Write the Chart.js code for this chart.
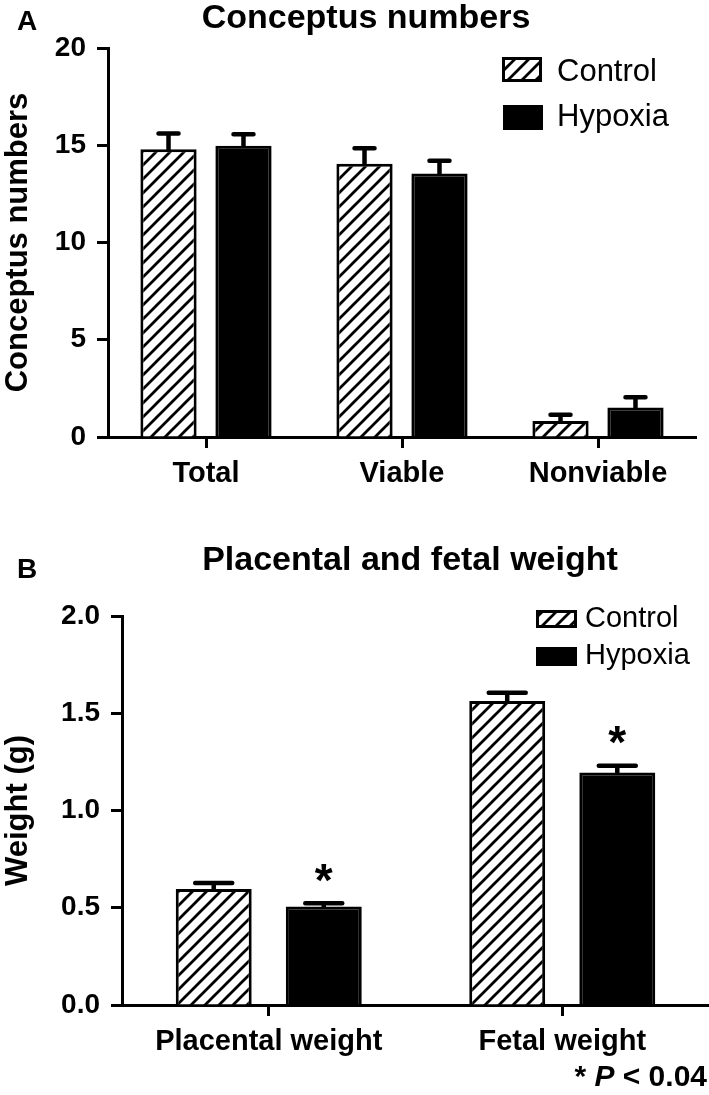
<!DOCTYPE html>
<html>
<head>
<meta charset="utf-8">
<script src="https://cdn.jsdelivr.net/npm/chart.js@4.4.1/dist/chart.umd.min.js"></script>
<style>
  body { margin: 0; background: #fff; }
  #wrap { position: relative; width: 709px; height: 1095px; }
  #wrap canvas { position: absolute; left: 0; }
</style>
</head>
<body>
<div id="wrap">
  <canvas id="conceptus" width="709" height="510" style="top:0"></canvas>
  <canvas id="weight" width="709" height="585" style="top:510px"></canvas>
</div>
<script>
// panel A data
const conceptusCategories = ['Total', 'Viable', 'Nonviable'];
const conceptusControl = [14.8, 14.05, 0.82];
const conceptusControlSem = [0.8, 0.8, 0.33];
const conceptusHypoxia = [14.97, 13.55, 1.52];
const conceptusHypoxiaSem = [0.6, 0.65, 0.53];
const conceptusTicks = [0, 5, 10, 15, 20];

// panel B data
const weightCategories = ['Placental weight', 'Fetal weight'];
const weightControl = [0.597, 1.563];
const weightControlSem = [0.03, 0.042];
const weightHypoxia = [0.507, 1.195];
const weightHypoxiaSem = [0.016, 0.035];
const weightStars = [0.68, 1.39];
const weightTicks = [0, 0.5, 1.0, 1.5, 2.0];

const seriesNames = ['Control', 'Hypoxia'];
const FONT = "'Liberation Sans', Arial, sans-serif";

function makeHatch() {
    const s = 14;
    const c = document.createElement('canvas');
    c.width = s;
    c.height = s;
    const x = c.getContext('2d');
    x.fillStyle = '#fff';
    x.fillRect(0, 0, s, s);
    x.strokeStyle = '#000';
    x.lineWidth = 2.8;
    x.beginPath();
    x.moveTo(-2, s + 2); x.lineTo(s + 2, -2);
    x.moveTo(-3, 3); x.lineTo(3, -3);
    x.moveTo(s - 3, s + 3); x.lineTo(s + 3, s - 3);
    x.stroke();
    return x.createPattern(c, 'repeat');
}
const hatch = makeHatch();

// error bars (upward only), drawn from the bar top
const errorBars = {
    id: 'errorBars',
    afterDatasetsDraw(chart, args, opts) {
        const ctx = chart.ctx;
        const y = chart.scales.y;
        ctx.save();
        ctx.strokeStyle = '#000';
        ctx.lineWidth = 4.5;
        ctx.lineCap = 'round';
        chart.data.datasets.forEach((ds, i) => {
            const meta = chart.getDatasetMeta(i);
            meta.data.forEach((bar, j) => {
                const top = y.getPixelForValue(ds.data[j] + ds.sem[j]);
                ctx.beginPath();
                ctx.moveTo(bar.x, bar.y);
                ctx.lineTo(bar.x, top);
                ctx.moveTo(bar.x - opts.cap / 2 + 2, top);
                ctx.lineTo(bar.x + opts.cap / 2 - 2, top);
                ctx.stroke();
            });
            if (ds.stars) {
                ctx.fillStyle = '#000';
                ctx.font = 'bold 46px ' + FONT;
                ctx.textAlign = 'center';
                ctx.textBaseline = 'alphabetic';
                const m = ctx.measureText('*');
                meta.data.forEach((bar, j) => {
                    if (ds.stars[j] == null) return;
                    const cy = y.getPixelForValue(ds.stars[j]);
                    const base = cy + (m.actualBoundingBoxAscent - m.actualBoundingBoxDescent) / 2;
                    ctx.fillText('*', bar.x, base);
                });
            }
        });
        ctx.restore();
    }
};

// title, panel letter, legend and footnote
const decorations = {
    id: 'decorations',
    afterDraw(chart, args, o) {
        const ctx = chart.ctx;
        ctx.save();
        ctx.fillStyle = '#000';
        ctx.textBaseline = 'alphabetic';
        ctx.font = 'bold 28px ' + FONT;
        ctx.textAlign = 'left';
        ctx.fillText(o.letter, 17, o.letterY);
        ctx.font = 'bold 34px ' + FONT;
        ctx.textAlign = 'center';
        ctx.fillText(o.title, o.titleX, o.titleY);

        ctx.font = o.legendFont + 'px ' + FONT;
        ctx.textAlign = 'left';
        o.legend.forEach((it, i) => {
            ctx.fillStyle = i === 0 ? hatch : '#000';
            ctx.fillRect(it.x, it.y, it.w, it.h);
            ctx.strokeStyle = '#000';
            ctx.lineWidth = 3;
            ctx.strokeRect(it.x + 1.5, it.y + 1.5, it.w - 3, it.h - 3);
            ctx.fillStyle = '#000';
            ctx.fillText(seriesNames[i], it.tx, it.ty);
        });

        if (o.note) {
            const parts = [['* ', 'bold '], ['P', 'italic bold '], [' < 0.04', 'bold ']];
            let w = 0;
            parts.forEach(p => { ctx.font = p[1] + '30px ' + FONT; w += ctx.measureText(p[0]).width; });
            let x = o.note.x - w;
            parts.forEach(p => {
                ctx.font = p[1] + '30px ' + FONT;
                ctx.fillText(p[0], x, o.note.y);
                x += ctx.measureText(p[0]).width;
            });
        }
        ctx.restore();
    }
};

function barOptions(p) {
    return {
        responsive: false,
        animation: false,
        devicePixelRatio: 1,
        layout: { padding: { top: p.top, right: p.right, left: 0, bottom: 0 } },
        scales: {
            x: {
                offset: true,
                afterFit: s => { s.height = p.xHeight; },
                grid: { drawOnChartArea: false, offset: false, tickLength: 11, tickWidth: 3, tickColor: '#000' },
                border: { color: '#000', width: 3 },
                ticks: { color: '#000', padding: 9, font: { family: FONT, size: 29, weight: 'bold' }, maxRotation: 0 }
            },
            y: {
                min: 0,
                max: p.ticks[p.ticks.length - 1],
                afterFit: s => { s.width = p.yWidth; },
                afterBuildTicks: s => { s.ticks = p.ticks.map(v => ({ value: v })); },
                grid: { drawOnChartArea: false, tickLength: 11, tickWidth: 3, tickColor: '#000' },
                border: { color: '#000', width: 3 },
                ticks: {
                    color: '#000', padding: 11,
                    font: { family: FONT, size: 28, weight: 'bold' },
                    callback: v => p.fmt(v)
                },
                title: {
                    display: true, text: p.yTitle, color: '#000',
                    padding: { top: 0, bottom: 0 },
                    font: { family: FONT, size: 31, weight: 'bold' }
                }
            }
        },
        plugins: {
            legend: { display: false },
            title: { display: false },
            tooltip: { enabled: false },
            errorBars: { cap: p.cap },
            decorations: p.deco
        }
    };
}

new Chart(document.getElementById('conceptus'), {
    type: 'bar',
    data: {
        labels: conceptusCategories,
        datasets: [
            { label: seriesNames[0], data: conceptusControl, sem: conceptusControlSem,
              backgroundColor: hatch, borderColor: '#000', borderWidth: 3,
              categoryPercentage: 0.765, barPercentage: 0.75 },
            { label: seriesNames[1], data: conceptusHypoxia, sem: conceptusHypoxiaSem,
              backgroundColor: '#000', borderColor: '#000', borderWidth: 3,
              categoryPercentage: 0.765, barPercentage: 0.75 }
        ]
    },
    options: barOptions({
        top: 48, right: 13, xHeight: 73, yWidth: 108, ticks: conceptusTicks,
        fmt: v => String(v), yTitle: 'Conceptus numbers', cap: 24,
        deco: {
            letter: 'A', letterY: 30, title: 'Conceptus numbers', titleX: 366, titleY: 28,
            legendFont: 31,
            legend: [
                { x: 502, y: 57, w: 40, h: 25, tx: 557, ty: 81 },
                { x: 503, y: 105, w: 40, h: 25, tx: 557, ty: 126 }
            ]
        }
    }),
    plugins: [errorBars, decorations]
});

new Chart(document.getElementById('weight'), {
    type: 'bar',
    data: {
        labels: weightCategories,
        datasets: [
            { label: seriesNames[0], data: weightControl, sem: weightControlSem,
              backgroundColor: hatch, borderColor: '#000', borderWidth: 3,
              categoryPercentage: 0.75, barPercentage: 0.69 },
            { label: seriesNames[1], data: weightHypoxia, sem: weightHypoxiaSem, stars: weightStars,
              backgroundColor: '#000', borderColor: '#000', borderWidth: 3,
              categoryPercentage: 0.75, barPercentage: 0.69 }
        ]
    },
    options: barOptions({
        top: 106, right: 0, xHeight: 90, yWidth: 122, ticks: weightTicks,
        fmt: v => v.toFixed(1), yTitle: 'Weight (g)', cap: 41,
        deco: {
            letter: 'B', letterY: 68, title: 'Placental and fetal weight', titleX: 410, titleY: 60,
            legendFont: 29,
            legend: [
                { x: 536, y: 100, w: 41, h: 18, tx: 585, ty: 117 },
                { x: 536, y: 137, w: 41, h: 19, tx: 585, ty: 154 }
            ],
            note: { x: 707, y: 576 }
        }
    }),
    plugins: [errorBars, decorations]
});
</script>
</body>
</html>
